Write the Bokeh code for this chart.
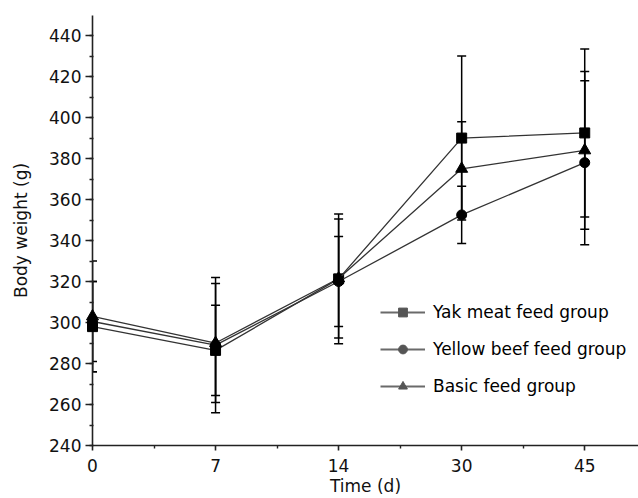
from bokeh.plotting import figure
from bokeh.models import (Range1d, FixedTicker, Whisker, TeeHead, ColumnDataSource,
                          Legend, LegendItem)
from bokeh.embed import file_html
from bokeh.resources import INLINE

# ---- data ----
days = ["0", "7", "14", "30", "45"]
yak_mean = [298, 286.4, 321.3, 390, 392.5]
yak_sd = [22, 22, 31.7, 40, 41]
yellow_mean = [300.5, 289, 320, 352.5, 378]
yellow_sd = [19.5, 33, 22, 14, 40]
basic_mean = [303, 290, 321.5, 375, 384]
basic_sd = [27, 29, 29, 23, 38.5]
labels = ["Yak meat feed group", "Yellow beef feed group", "Basic feed group"]
y_ticks = list(range(240, 441, 20))
y_minor = list(range(240, 450, 10))

FONT = "DejaVu Sans"
NAN = float("nan")
xpos = list(range(len(days)))

p = figure(width=638, height=498, output_backend="svg", toolbar_location=None,
           x_range=Range1d(0, 4.437), y_range=Range1d(240, 449.8),
           min_border_left=92, min_border_right=0, min_border_top=15,
           min_border_bottom=52)
p.xgrid.visible = False
p.ygrid.visible = False
p.outline_line_color = None
p.background_fill_color = "white"
p.border_fill_color = "white"

# axes
p.xaxis.ticker = FixedTicker(ticks=xpos, minor_ticks=[i + 0.5 for i in xpos])
p.xaxis.major_label_overrides = {i: d for i, d in enumerate(days)}
p.yaxis.ticker = FixedTicker(ticks=y_ticks, minor_ticks=y_minor)
p.xaxis.axis_label = "Time (d)"
p.yaxis.axis_label = "Body weight (g)"
for ax in (p.xaxis[0], p.yaxis[0]):
    ax.axis_line_color = "#222222"
    ax.axis_line_width = 1.6
    ax.major_tick_line_color = "#222222"
    ax.major_tick_line_width = 1.6
    ax.minor_tick_line_color = "#222222"
    ax.minor_tick_line_width = 1.4
    ax.major_label_text_font = FONT
    ax.major_label_text_font_size = "17px"
    ax.major_label_text_color = "#111111"
    ax.axis_label_text_font = FONT
    ax.axis_label_text_font_size = "17px"
    ax.axis_label_text_font_style = "normal"
    ax.axis_label_text_color = "#111111"
p.yaxis.major_tick_out = 7
p.yaxis.major_tick_in = 0
p.yaxis.minor_tick_out = 3
p.yaxis.minor_tick_in = 1
p.yaxis.major_label_standoff = 4
p.yaxis.axis_label_standoff = 15
p.xaxis.major_tick_out = 5
p.xaxis.major_tick_in = 0
p.xaxis.minor_tick_out = 3
p.xaxis.minor_tick_in = 0
p.xaxis.major_label_standoff = 8
p.xaxis.axis_label_standoff = 1

series = [
    (yak_mean, yak_sd, "square", 10),
    (yellow_mean, yellow_sd, "circle", 10),
    (basic_mean, basic_sd, "triangle", 12),
]

items = []
for (mean, sd, marker, size), lab in zip(series, labels):
    src = ColumnDataSource(dict(x=xpos, y=mean,
                                upper=[m + s for m, s in zip(mean, sd)],
                                lower=[m - s for m, s in zip(mean, sd)]))
    w = Whisker(base="x", upper="upper", lower="lower", source=src,
                dimension="height", line_color="black", line_width=1.5,
                upper_head=TeeHead(size=9, line_color="black", line_width=1.5),
                lower_head=TeeHead(size=9, line_color="black", line_width=1.5))
    p.add_layout(w)
    p.line("x", "y", source=src, line_color="#333333", line_width=1.3,
           level="overlay")
    p.scatter("x", "y", source=src, marker=marker, size=size,
              fill_color="black", line_color="black", level="overlay")
    # legend-only proxies (grey, as in the reference); NaN rows draw nothing
    lr = p.line([NAN], [NAN], line_color="#6a6a6a", line_width=2)
    mr = p.scatter([NAN], [NAN], marker=marker, size=size + 1,
                   fill_color="#555555", line_color="#555555")
    items.append(LegendItem(label=lab, renderers=[lr, mr]))

legend = Legend(items=items, location=(288, 48), orientation="vertical",
                background_fill_alpha=0, border_line_color=None,
                padding=0, margin=0, spacing=15, glyph_width=45,
                glyph_height=22, label_height=22, label_standoff=8,
                label_text_font=FONT, label_text_font_size="17px",
                label_text_color="black")
p.add_layout(legend)

open("out.html", "w").write(file_html(p, INLINE))
